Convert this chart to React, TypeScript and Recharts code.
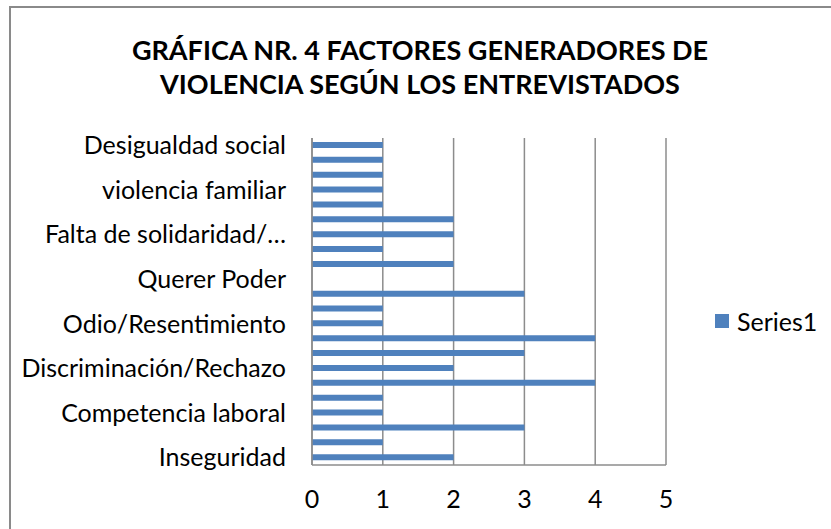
import React from 'react';
import { BarChart, Bar, XAxis, YAxis, CartesianGrid, Legend } from 'recharts';

// categories listed bottom to top; only every third one carries a visible label
const categories = [
  'Inseguridad', '', '',
  'Competencia laboral', '', '',
  'Discriminación/Rechazo', '', '',
  'Odio/Resentimiento', '', '',
  'Querer Poder', '', '',
  'Falta de solidaridad/…', '', '',
  'violencia familiar', '', '',
  'Desigualdad social',
];
const series1 = [2, 1, 3, 1, 1, 4, 2, 3, 4, 1, 1, 3, 0, 2, 1, 2, 2, 1, 1, 1, 1, 1];
const xTicks = [0, 1, 2, 3, 4, 5];
const titleLines = ['GRÁFICA NR. 4 FACTORES GENERADORES DE', 'VIOLENCIA SEGÚN LOS ENTREVISTADOS'];

const data = categories.map((name, i) => ({ name, Series1: series1[i] }));

const FONT = 'Lato, "Open Sans", sans-serif';
const BAR = '#4F81BD';
const GRID = '#8C8C8C';

const LegendBox = () => (
  <div style={{ display: 'flex', alignItems: 'center', fontFamily: FONT, fontSize: 25, color: '#000' }}>
    <span style={{ width: 14, height: 14, background: BAR, display: 'inline-block', marginRight: 8 }} />
    Series1
  </div>
);

const App: React.FC = () => {
  return (
    <div style={{ position: 'absolute', left: 0, top: 0, width: 831, height: 529, background: '#fff', overflow: 'hidden' }}>
      <div
        style={{
          position: 'absolute', left: 9, top: 6, width: 840, height: 560,
          border: '2px solid #8A8A8A', boxSizing: 'border-box',
        }}
      />
      <div
        style={{
          position: 'absolute', left: 0, top: 33, width: 840, textAlign: 'center',
          fontFamily: FONT, fontWeight: 'bold', fontSize: 27, lineHeight: '34px', color: '#000',
        }}
      >
        {titleLines.map((t) => (
          <div key={t}>{t}</div>
        ))}
      </div>
      <BarChart
        width={831}
        height={529}
        data={data}
        layout="vertical"
        margin={{ top: 138, right: 55, bottom: 0, left: 0 }}
        style={{ position: 'absolute', left: 0, top: 0 }}
      >
        <CartesianGrid horizontal={false} stroke={GRID} strokeWidth={1.5} />
        <XAxis
          type="number"
          domain={[0, 5]}
          ticks={xTicks}
          tickLine={false}
          tickSize={0}
          tickMargin={25}
          axisLine={{ stroke: GRID, strokeWidth: 1.5 }}
          tick={{ fill: '#000', fontSize: 25, fontFamily: FONT }}
          height={64}
        />
        <YAxis
          type="category"
          dataKey="name"
          reversed
          width={312}
          interval={0}
          tickLine={false}
          tickSize={0}
          tickMargin={26}
          axisLine={{ stroke: GRID, strokeWidth: 1.5 }}
          tick={{ fill: '#000', fontSize: 25, fontFamily: FONT }}
        />
        <Legend
          layout="vertical"
          align="right"
          verticalAlign="top"
          wrapperStyle={{ left: 715, top: 306, width: 110 }}
          content={<LegendBox />}
        />
        <Bar dataKey="Series1" fill={BAR} barSize={6} isAnimationActive={false} />
      </BarChart>
    </div>
  );
};

export default App;
